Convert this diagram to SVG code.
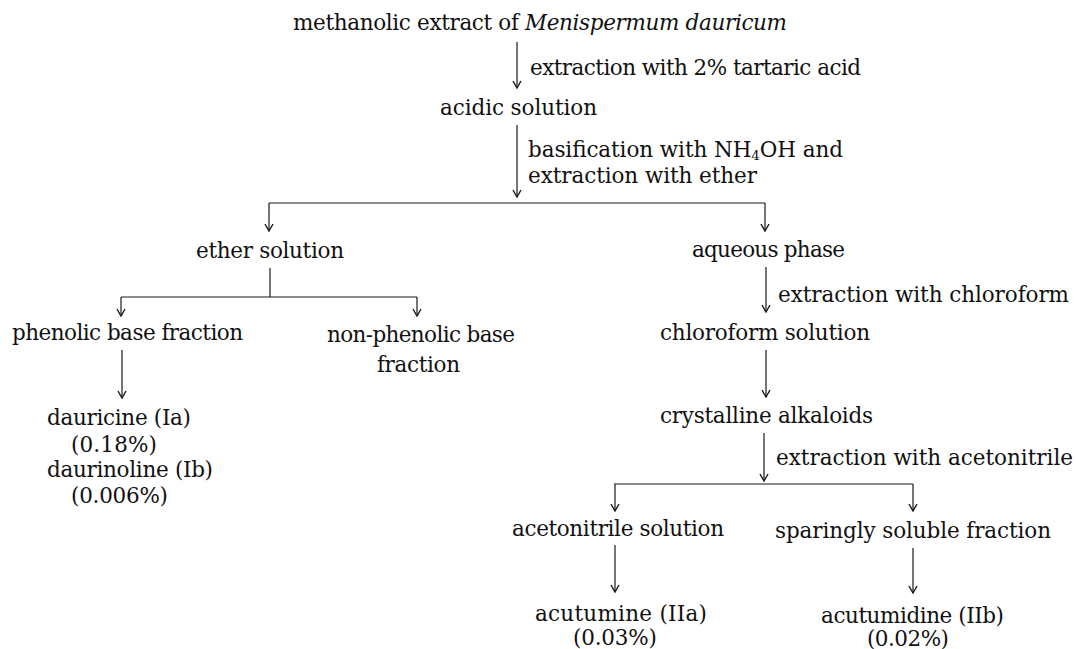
<svg xmlns="http://www.w3.org/2000/svg" width="1076" height="649" viewBox="0 0 1076 649">
<defs>
<style>
text{font-family:"DejaVu Serif","Liberation Serif",serif;font-size:21.5px;fill:#111111}
.it{font-style:italic}
.sub{font-size:13.5px}
.c line{stroke:#1a1a1a;stroke-width:1.2;fill:none}
.c line.a{marker-end:url(#ah)}
</style>
<marker id="ah" viewBox="-8 -5 9 10" refX="0" refY="0" markerWidth="9" markerHeight="10" markerUnits="userSpaceOnUse" orient="auto">
<path d="M-7,-4 L0,0 L-7,4" fill="none" stroke="#1a1a1a" stroke-width="1.4"/>
</marker>
</defs>
<rect width="1076" height="649" fill="#ffffff"/>
<g class="c" id="connectors">
<line class="a" x1="517" y1="42" x2="517" y2="88"/>
<line class="a" x1="517" y1="125" x2="517" y2="197"/>
<line x1="269" y1="203" x2="765" y2="203"/>
<line class="a" x1="269" y1="203" x2="269" y2="231"/>
<line class="a" x1="765" y1="203" x2="765" y2="231"/>
<line x1="270" y1="268" x2="270" y2="297"/>
<line x1="121" y1="297" x2="417" y2="297"/>
<line class="a" x1="121" y1="297" x2="121" y2="316"/>
<line class="a" x1="417" y1="297" x2="417" y2="316"/>
<line class="a" x1="122" y1="350" x2="122" y2="398"/>
<line class="a" x1="766" y1="267" x2="766" y2="312"/>
<line class="a" x1="766" y1="350" x2="766" y2="397"/>
<line class="a" x1="764" y1="433" x2="764" y2="481"/>
<line x1="614" y1="484" x2="913" y2="484"/>
<line class="a" x1="615" y1="484" x2="615" y2="511"/>
<line class="a" x1="913" y1="484" x2="913" y2="511"/>
<line class="a" x1="615" y1="545" x2="615" y2="592"/>
<line class="a" x1="913" y1="548" x2="913" y2="593"/>
<text x="530" y="75" textLength="331" lengthAdjust="spacing">extraction with 2% tartaric acid</text>
<text x="528" y="157" textLength="315" lengthAdjust="spacing">basification with NH<tspan class="sub" dy="3">4</tspan><tspan dy="-3">OH and</tspan></text>
<text x="528" y="183" textLength="229" lengthAdjust="spacing">extraction with ether</text>
<text x="778" y="302" textLength="291" lengthAdjust="spacing">extraction with chloroform</text>
<text x="776" y="465" textLength="297" lengthAdjust="spacing">extraction with acetonitrile</text>
</g>
<g id="n-extract"><text x="293" y="30" textLength="494" lengthAdjust="spacing">methanolic extract of <tspan class="it">Menispermum dauricum</tspan></text></g>
<g id="n-acidic"><text x="440" y="115" textLength="157" lengthAdjust="spacing">acidic solution</text></g>
<g id="n-ether"><text x="196" y="258" textLength="148" lengthAdjust="spacing">ether solution</text></g>
<g id="n-aqueous"><text x="692" y="257" textLength="153" lengthAdjust="spacing">aqueous phase</text></g>
<g id="n-phenolic"><text x="12" y="340" textLength="231" lengthAdjust="spacing">phenolic base fraction</text></g>
<g id="n-nonphenolic"><text x="327" y="342" textLength="188" lengthAdjust="spacing">non-phenolic base</text><text x="377" y="372" textLength="83" lengthAdjust="spacing">fraction</text></g>
<g id="n-chloroform"><text x="660" y="340" textLength="210" lengthAdjust="spacing">chloroform solution</text></g>
<g id="n-dauricine"><text x="47" y="425" textLength="144" lengthAdjust="spacing">dauricine (Ia)</text><text x="71" y="452" textLength="86" lengthAdjust="spacing">(0.18%)</text><text x="47" y="477" textLength="166" lengthAdjust="spacing">daurinoline (Ib)</text><text x="71" y="503" textLength="97" lengthAdjust="spacing">(0.006%)</text></g>
<g id="n-crystalline"><text x="660" y="423" textLength="213" lengthAdjust="spacing">crystalline alkaloids</text></g>
<g id="n-acetonitrile"><text x="512" y="536" textLength="212" lengthAdjust="spacing">acetonitrile solution</text></g>
<g id="n-sparingly"><text x="775" y="538" textLength="276" lengthAdjust="spacing">sparingly soluble fraction</text></g>
<g id="n-acutumine"><text x="535" y="621" textLength="172" lengthAdjust="spacing">acutumine (IIa)</text><text x="573" y="645" textLength="84" lengthAdjust="spacing">(0.03%)</text></g>
<g id="n-acutumidine"><text x="821" y="623" textLength="183" lengthAdjust="spacing">acutumidine (IIb)</text><text x="867" y="646" textLength="82" lengthAdjust="spacing">(0.02%)</text></g>
</svg>
